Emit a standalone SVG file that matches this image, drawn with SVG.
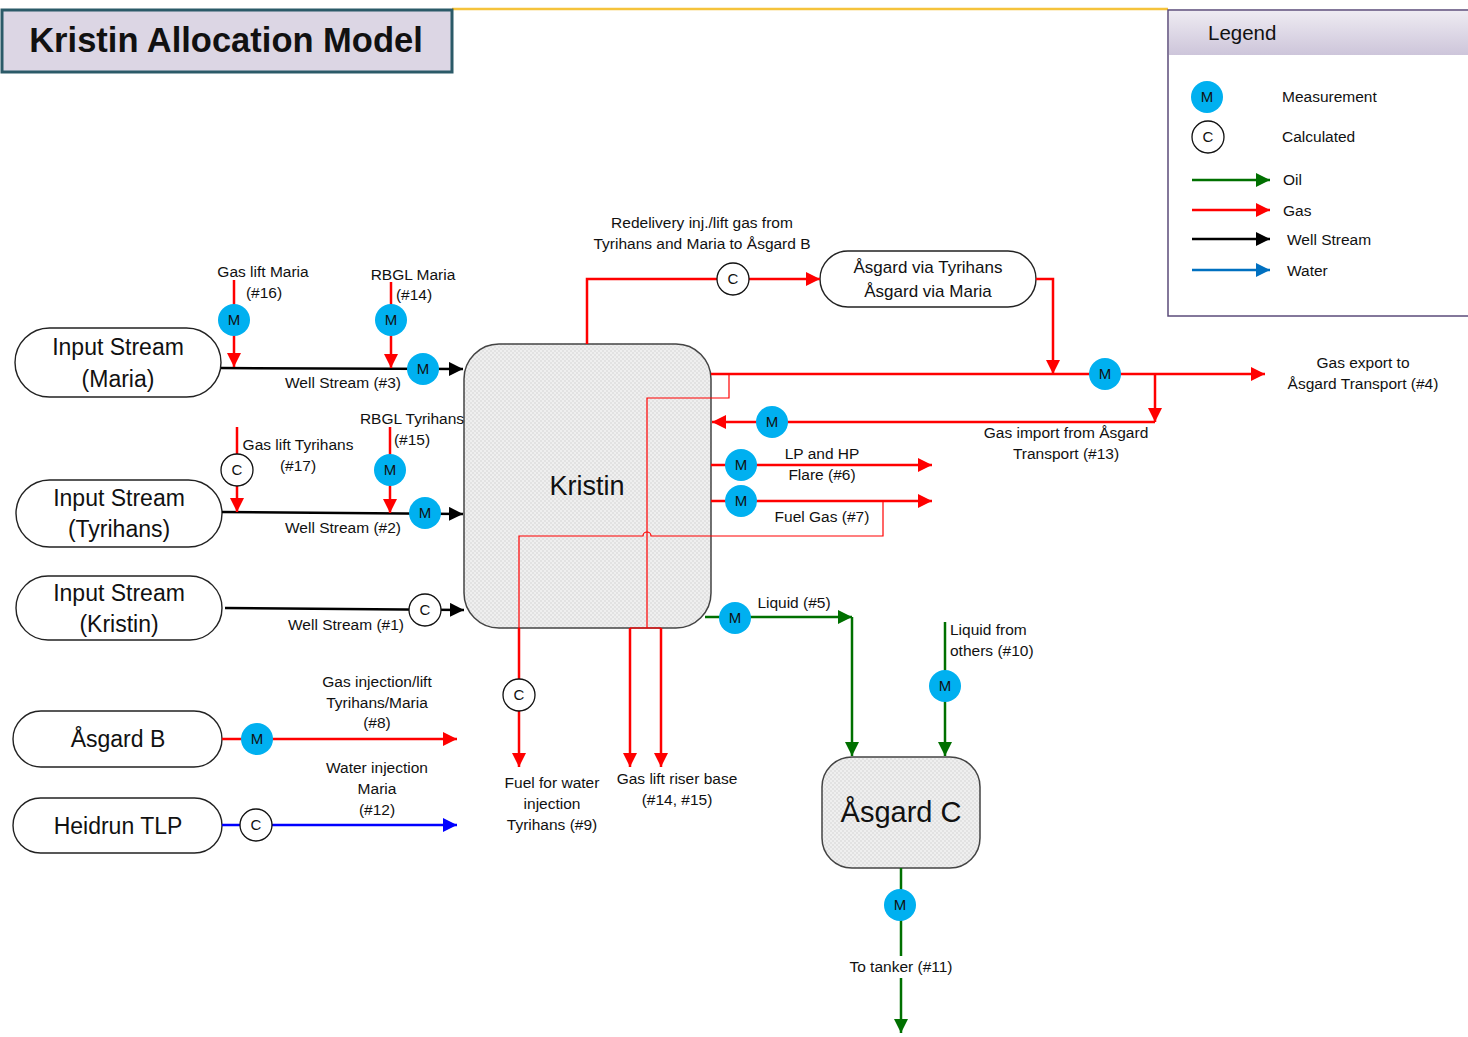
<svg xmlns="http://www.w3.org/2000/svg" width="1468" height="1037" viewBox="0 0 1468 1037">
<defs>
<style>
text{font-family:"Liberation Sans",Arial,sans-serif;fill:#111}
.lbl{font-size:15.5px;text-anchor:middle}
.lbs{font-size:15.5px;text-anchor:start}
.big{font-size:23px;text-anchor:middle}
.node{fill:#fff;stroke:#222;stroke-width:1.4}
.proc{fill:url(#dots);stroke:#444;stroke-width:1.5}
.m{fill:#00b0f0}
.c{fill:#fff;stroke:#111;stroke-width:1.3}
.mt{font-size:15px;text-anchor:middle}
.red{stroke:#ff0000;stroke-width:2.5;fill:none}
.thin{stroke:#ff0000;stroke-width:1.2;fill:none}
.blk{stroke:#000;stroke-width:2.5;fill:none}
.grn{stroke:#007000;stroke-width:2.5;fill:none}
.blu{stroke:#0000ff;stroke-width:2.5;fill:none}
.wat{stroke:#0070c0;stroke-width:2.5;fill:none}
</style>
<pattern id="dots" width="4" height="4" patternUnits="userSpaceOnUse">
<rect width="4" height="4" fill="#efefef"/>
<rect width="2" height="2" fill="#e2e2e2"/>
<rect x="2" y="2" width="2" height="2" fill="#e2e2e2"/>
</pattern>
<linearGradient id="lg" x1="0" y1="0" x2="0" y2="1">
<stop offset="0" stop-color="#eeebf2"/>
<stop offset="1" stop-color="#cdc5da"/>
</linearGradient>
<marker id="aR" markerUnits="userSpaceOnUse" markerWidth="15" markerHeight="14" refX="14" refY="7" orient="auto"><path d="M0,0 L14,7 L0,14 z" fill="#ff0000"/></marker>
<marker id="aK" markerUnits="userSpaceOnUse" markerWidth="15" markerHeight="14" refX="14" refY="7" orient="auto"><path d="M0,0 L14,7 L0,14 z" fill="#000"/></marker>
<marker id="aG" markerUnits="userSpaceOnUse" markerWidth="15" markerHeight="14" refX="14" refY="7" orient="auto"><path d="M0,0 L14,7 L0,14 z" fill="#007000"/></marker>
<marker id="aB" markerUnits="userSpaceOnUse" markerWidth="15" markerHeight="14" refX="14" refY="7" orient="auto"><path d="M0,0 L14,7 L0,14 z" fill="#0000ff"/></marker>
<marker id="aW" markerUnits="userSpaceOnUse" markerWidth="15" markerHeight="14" refX="14" refY="7" orient="auto"><path d="M0,0 L14,7 L0,14 z" fill="#0070c0"/></marker>
</defs>
<rect width="1468" height="1037" fill="#fff"/>

<g id="title">
<line x1="452" y1="9" x2="1168" y2="9" stroke="#f5c33b" stroke-width="2.5"/>
<rect x="2" y="10" width="450" height="62" fill="#dcd6e4" stroke="#2b5a68" stroke-width="3"/>
<text x="226" y="52" style="font-size:34.5px;font-weight:bold;text-anchor:middle">Kristin Allocation Model</text>
</g>

<g id="legend">
<rect x="1168" y="10" width="310" height="306" fill="#fff" stroke="#5b4b7a" stroke-width="1.5"/>
<rect x="1169" y="11" width="300" height="44" fill="url(#lg)"/>
<text x="1208" y="40" style="font-size:20.5px">Legend</text>
<circle class="m" cx="1207" cy="97" r="16"/><text class="mt" x="1207" y="102">M</text>
<text class="lbs" x="1282" y="102">Measurement</text>
<circle class="c" cx="1208" cy="137" r="16"/><text class="mt" x="1208" y="142">C</text>
<text class="lbs" x="1282" y="142">Calculated</text>
<line class="grn" x1="1192" y1="180" x2="1270" y2="180" marker-end="url(#aG)"/>
<text class="lbs" x="1283" y="185">Oil</text>
<line class="red" x1="1192" y1="210" x2="1270" y2="210" marker-end="url(#aR)"/>
<text class="lbs" x="1283" y="216">Gas</text>
<line class="blk" x1="1192" y1="239" x2="1270" y2="239" marker-end="url(#aK)"/>
<text class="lbs" x="1287" y="245">Well Stream</text>
<line class="wat" x1="1192" y1="270" x2="1270" y2="270" marker-end="url(#aW)"/>
<text class="lbs" x="1287" y="276">Water</text>
</g>

<g id="node-maria">
<rect class="node" x="15" y="328" width="206" height="69" rx="34.5"/>
<text class="big" x="118" y="355">Input Stream</text>
<text class="big" x="118" y="387">(Maria)</text>
</g>
<g id="node-tyrihans">
<rect class="node" x="16" y="480" width="206" height="67" rx="33.5"/>
<text class="big" x="119" y="506">Input Stream</text>
<text class="big" x="119" y="537">(Tyrihans)</text>
</g>
<g id="node-kristin-input">
<rect class="node" x="16" y="576" width="206" height="64" rx="32"/>
<text class="big" x="119" y="601">Input Stream</text>
<text class="big" x="119" y="632">(Kristin)</text>
</g>
<g id="node-asgard-b">
<rect class="node" x="13" y="711" width="209" height="56" rx="28"/>
<text class="big" x="118" y="747">Åsgard B</text>
</g>
<g id="node-heidrun">
<rect class="node" x="13" y="798" width="209" height="55" rx="27.5"/>
<text class="big" x="118" y="834">Heidrun TLP</text>
</g>
<g id="node-asgard-via">
<rect class="node" x="820" y="251" width="216" height="56" rx="28"/>
<text x="928" y="273" style="font-size:17px;text-anchor:middle">Åsgard via Tyrihans</text>
<text x="928" y="297" style="font-size:17px;text-anchor:middle">Åsgard via Maria</text>
</g>
<g id="node-kristin">
<rect class="proc" x="464" y="344" width="247" height="284" rx="35"/>
<text x="587" y="495" style="font-size:27px;text-anchor:middle">Kristin</text>
</g>
<g id="node-asgard-c">
<rect class="proc" x="822" y="757" width="158" height="111" rx="30"/>
<text x="901" y="822" style="font-size:29px;text-anchor:middle">Åsgard C</text>
</g>

<g id="connectors">
<line class="blk" x1="221" y1="368" x2="463" y2="369" marker-end="url(#aK)"/>
<line class="blk" x1="222" y1="512" x2="463" y2="514" marker-end="url(#aK)"/>
<line class="blk" x1="225" y1="608" x2="464" y2="610" marker-end="url(#aK)"/>
<line class="red" x1="234" y1="280" x2="234" y2="367" marker-end="url(#aR)"/>
<line class="red" x1="391" y1="282" x2="391" y2="368" marker-end="url(#aR)"/>
<line class="red" x1="237" y1="427" x2="237" y2="512" marker-end="url(#aR)"/>
<line class="red" x1="390" y1="427" x2="390" y2="513" marker-end="url(#aR)"/>
<line class="red" x1="222" y1="739" x2="457" y2="739" marker-end="url(#aR)"/>
<line class="blu" x1="222" y1="825" x2="457" y2="825" marker-end="url(#aB)"/>
<polyline class="red" points="587,344 587,279 820,279" marker-end="url(#aR)"/>
<polyline class="red" points="1036,279 1053,279 1053,374" marker-end="url(#aR)"/>
<line class="red" x1="711" y1="374" x2="1265" y2="374" marker-end="url(#aR)"/>
<line class="red" x1="1155" y1="374" x2="1155" y2="422" marker-end="url(#aR)"/>
<line class="red" x1="1155" y1="422" x2="712" y2="422" marker-end="url(#aR)"/>
<line class="red" x1="711" y1="465" x2="932" y2="465" marker-end="url(#aR)"/>
<line class="red" x1="711" y1="501" x2="932" y2="501" marker-end="url(#aR)"/>
<polyline class="thin" points="729,374 729,398 647,398 647,628"/>
<path class="thin" d="M883,501 L883,536 L651,536 A4,4 0 0 0 643,536 L519,536 L519,628"/>
<line class="thin" x1="630" y1="628" x2="661" y2="628"/>
<line class="red" x1="519" y1="628" x2="519" y2="767" marker-end="url(#aR)"/>
<line class="red" x1="630" y1="628" x2="630" y2="767" marker-end="url(#aR)"/>
<line class="red" x1="661" y1="628" x2="661" y2="767" marker-end="url(#aR)"/>
<line class="grn" x1="705" y1="617" x2="852" y2="617" marker-end="url(#aG)"/>
<line class="grn" x1="852" y1="617" x2="852" y2="756" marker-end="url(#aG)"/>
<line class="grn" x1="945" y1="622" x2="945" y2="756" marker-end="url(#aG)"/>
<line class="grn" x1="901" y1="868" x2="901" y2="1033" marker-end="url(#aG)"/>
</g>

<g id="meters">
<g id="m16"><circle class="m" cx="234" cy="320" r="16"/><text class="mt" x="234" y="325">M</text></g>
<g id="m14"><circle class="m" cx="391" cy="320" r="16"/><text class="mt" x="391" y="325">M</text></g>
<g id="m3"><circle class="m" cx="423" cy="369" r="16"/><text class="mt" x="423" y="374">M</text></g>
<g id="c17"><circle class="c" cx="237" cy="470" r="16"/><text class="mt" x="237" y="475">C</text></g>
<g id="m15"><circle class="m" cx="390" cy="470" r="16"/><text class="mt" x="390" y="475">M</text></g>
<g id="m2"><circle class="m" cx="425" cy="513" r="16"/><text class="mt" x="425" y="518">M</text></g>
<g id="c1"><circle class="c" cx="425" cy="610" r="16"/><text class="mt" x="425" y="615">C</text></g>
<g id="m8"><circle class="m" cx="257" cy="739" r="16"/><text class="mt" x="257" y="744">M</text></g>
<g id="c12"><circle class="c" cx="256" cy="825" r="16"/><text class="mt" x="256" y="830">C</text></g>
<g id="credel"><circle class="c" cx="733" cy="279" r="16"/><text class="mt" x="733" y="284">C</text></g>
<g id="m4"><circle class="m" cx="1105" cy="374" r="16"/><text class="mt" x="1105" y="379">M</text></g>
<g id="m13"><circle class="m" cx="772" cy="422" r="16"/><text class="mt" x="772" y="427">M</text></g>
<g id="m6"><circle class="m" cx="741" cy="465" r="16"/><text class="mt" x="741" y="470">M</text></g>
<g id="m7"><circle class="m" cx="741" cy="501" r="16"/><text class="mt" x="741" y="506">M</text></g>
<g id="c9"><circle class="c" cx="519" cy="695" r="16"/><text class="mt" x="519" y="700">C</text></g>
<g id="m5"><circle class="m" cx="735" cy="618" r="16"/><text class="mt" x="735" y="623">M</text></g>
<g id="m10"><circle class="m" cx="945" cy="686" r="16"/><text class="mt" x="945" y="691">M</text></g>
<g id="m11"><circle class="m" cx="900" cy="905" r="16"/><text class="mt" x="900" y="910">M</text></g>
</g>

<g id="labels">
<text class="lbl" x="263" y="277">Gas lift Maria</text>
<text class="lbl" x="264" y="298">(#16)</text>
<text class="lbl" x="413" y="280">RBGL Maria</text>
<text class="lbl" x="414" y="300">(#14)</text>
<text class="lbl" x="343" y="388">Well Stream (#3)</text>
<text class="lbl" x="412" y="424">RBGL Tyrihans</text>
<text class="lbl" x="412" y="445">(#15)</text>
<text class="lbl" x="298" y="450">Gas lift Tyrihans</text>
<text class="lbl" x="298" y="471">(#17)</text>
<text class="lbl" x="343" y="533">Well Stream (#2)</text>
<text class="lbl" x="346" y="630">Well Stream (#1)</text>
<text class="lbl" x="377" y="687">Gas injection/lift</text>
<text class="lbl" x="377" y="708">Tyrihans/Maria</text>
<text class="lbl" x="377" y="728">(#8)</text>
<text class="lbl" x="377" y="773">Water injection</text>
<text class="lbl" x="377" y="794">Maria</text>
<text class="lbl" x="377" y="815">(#12)</text>
<text class="lbl" x="702" y="228">Redelivery inj./lift gas from</text>
<text class="lbl" x="702" y="249">Tyrihans and Maria to Åsgard B</text>
<text class="lbl" x="1363" y="368">Gas export to</text>
<text class="lbl" x="1363" y="389">Åsgard Transport (#4)</text>
<text class="lbl" x="1066" y="438">Gas import from Åsgard</text>
<text class="lbl" x="1066" y="459">Transport (#13)</text>
<text class="lbl" x="822" y="459">LP and HP</text>
<text class="lbl" x="822" y="480">Flare (#6)</text>
<text class="lbl" x="822" y="522">Fuel Gas (#7)</text>
<text class="lbl" x="794" y="608">Liquid (#5)</text>
<text class="lbs" x="950" y="635">Liquid from</text>
<text class="lbs" x="950" y="656">others (#10)</text>
<text class="lbl" x="552" y="788">Fuel for water</text>
<text class="lbl" x="552" y="809">injection</text>
<text class="lbl" x="552" y="830">Tyrihans (#9)</text>
<text class="lbl" x="677" y="784">Gas lift riser base</text>
<text class="lbl" x="677" y="805">(#14, #15)</text>
<rect x="843" y="956" width="116" height="22" fill="#fff"/>
<text class="lbl" x="901" y="972">To tanker (#11)</text>
</g>
</svg>
